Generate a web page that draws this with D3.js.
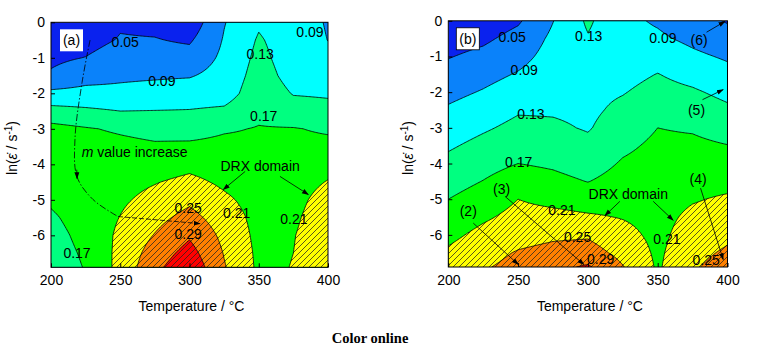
<!DOCTYPE html>
<html>
<head>
<meta charset="utf-8">
<script src="https://cdn.jsdelivr.net/npm/d3@7"></script>
<style>
body { margin: 0; background: #fff; }
svg { display: block; font-family: "Liberation Sans", Arial, sans-serif; }
</style>
</head>
<body>
<svg width="761" height="354"></svg>
<script>
// grid: one list of m values per temperature, top (ln rate 0) to bottom
var temps = [200, 225, 250, 275, 300, 325, 350, 375, 400];
var lnRates = [0, -0.5, -1, -1.5, -2, -2.5, -3, -3.5, -4, -4.5, -5, -5.5, -6, -6.5, -6.9];
var levels = [0.05, 0.09, 0.13, 0.17, 0.21, 0.25, 0.29];
var fillColors = ["#0a22ee", "#0a82fa", "#00ffff", "#00ff80", "#00ff00", "#ffff00", "#ff8000", "#ff0000"];
var xTicks = [200, 250, 300, 350, 400];
var yTicks = [0, -1, -2, -3, -4, -5, -6];

var mA = [
	[0.02, 0.03, 0.042, 0.055, 0.099, 0.144, 0.182, 0.19, 0.192, 0.188, 0.175, 0.165, 0.158, 0.154, 0.15],
	[0.02, 0.035, 0.051, 0.075, 0.102, 0.137, 0.173, 0.185, 0.19, 0.19, 0.188, 0.185, 0.18, 0.175, 0.172],
	[0.045, 0.053, 0.07, 0.083, 0.1, 0.13, 0.165, 0.18, 0.19, 0.197, 0.204, 0.211, 0.218, 0.221, 0.222],
	[0.04, 0.052, 0.065, 0.085, 0.105, 0.131, 0.158, 0.175, 0.19, 0.208, 0.222, 0.238, 0.252, 0.268, 0.28],
	[0.025, 0.045, 0.065, 0.087, 0.11, 0.132, 0.155, 0.177, 0.199, 0.22, 0.242, 0.263, 0.285, 0.305, 0.32],
	[0.088, 0.093, 0.098, 0.104, 0.112, 0.137, 0.166, 0.18, 0.19, 0.203, 0.217, 0.23, 0.24, 0.248, 0.253],
	[0.125, 0.134, 0.14, 0.146, 0.153, 0.162, 0.172, 0.178, 0.184, 0.19, 0.195, 0.198, 0.2, 0.202, 0.203],
	[0.108, 0.11, 0.112, 0.117, 0.128, 0.145, 0.172, 0.18, 0.187, 0.193, 0.198, 0.203, 0.208, 0.21, 0.211],
	[0.087, 0.0895, 0.097, 0.11, 0.126, 0.14, 0.165, 0.18, 0.197, 0.212, 0.226, 0.234, 0.238, 0.239, 0.24]
];
var mB = [
	[0.017, 0.033, 0.048, 0.063, 0.079, 0.095, 0.11, 0.125, 0.14, 0.155, 0.17, 0.185, 0.2, 0.216, 0.228],
	[0.027, 0.043, 0.06, 0.077, 0.093, 0.11, 0.125, 0.141, 0.156, 0.171, 0.187, 0.204, 0.221, 0.236, 0.246],
	[0.045, 0.063, 0.077, 0.093, 0.11, 0.126, 0.14, 0.155, 0.17, 0.19, 0.21, 0.222, 0.235, 0.253, 0.262],
	[0.089, 0.098, 0.105, 0.112, 0.119, 0.126, 0.136, 0.15, 0.164, 0.181, 0.2, 0.221, 0.243, 0.262, 0.28],
	[0.136, 0.127, 0.122, 0.12, 0.12, 0.122, 0.127, 0.139, 0.152, 0.169, 0.192, 0.215, 0.245, 0.267, 0.295],
	[0.1, 0.105, 0.111, 0.118, 0.128, 0.139, 0.15, 0.162, 0.174, 0.185, 0.196, 0.208, 0.222, 0.238, 0.252],
	[0.085, 0.097, 0.115, 0.131, 0.143, 0.157, 0.17, 0.178, 0.185, 0.19, 0.195, 0.198, 0.2, 0.203, 0.205],
	[0.065, 0.081, 0.098, 0.117, 0.135, 0.151, 0.166, 0.178, 0.187, 0.196, 0.207, 0.218, 0.228, 0.238, 0.245],
	[0.047, 0.066, 0.085, 0.102, 0.12, 0.137, 0.154, 0.171, 0.184, 0.199, 0.215, 0.226, 0.242, 0.256, 0.267]
];

// contour labels [text, T, ln rate]
var labelsA = [["0.05", 253.6, -0.57], ["0.09", 280, -1.67], ["0.13", 351, -0.89], ["0.09", 387, -0.28],
	["0.17", 353.6, -2.63], ["0.21", 334, -5.37], ["0.21", 375.4, -5.53], ["0.25", 299, -5.22],
	["0.29", 299, -5.97], ["0.17", 218.8, -6.51]];
var labelsB = [["0.05", 245.8, -0.46], ["0.13", 300.5, -0.42], ["0.09", 353.7, -0.49], ["0.09", 254.4, -1.37],
	["0.13", 259.2, -2.61], ["0.17", 250.4, -3.96], ["0.21", 281.4, -5.31], ["0.25", 292.6, -6.06],
	["0.29", 309.1, -6.68], ["0.21", 356.6, -6.13], ["0.25", 384.7, -6.71]];

var FS = 14;
var svg = d3.select("svg");
var defs = svg.append("defs");

var hatch = defs.append("pattern").attr("id", "hatch").attr("patternUnits", "userSpaceOnUse")
	.attr("width", 6).attr("height", 6);
hatch.append("path").attr("d", "M-1,1 L1,-1 M0,6 L6,0 M5,7 L7,5")
	.attr("stroke", "#222").attr("stroke-width", 0.75);

defs.append("marker").attr("id", "arr").attr("viewBox", "0 0 10 10").attr("refX", 9).attr("refY", 5)
	.attr("markerWidth", 7).attr("markerHeight", 7).attr("markerUnits", "userSpaceOnUse").attr("orient", "auto")
	.append("path").attr("d", "M0,1.5 L10,5 L0,8.5 Z").attr("fill", "#000");

//	bilinear look-up in the read grid (only used to feed d3.contours a finer mesh)
function sample(cols, T, v) {
	var i = Math.min(temps.length - 2, Math.floor((T - temps[0]) / 25));
	var tx = (T - temps[i]) / (temps[i + 1] - temps[i]);
	var j = 0;
	while (j < lnRates.length - 2 && v < lnRates[j + 1]) j++;
	var ty = (lnRates[j] - v) / (lnRates[j] - lnRates[j + 1]);
	var a = cols[i][j], b = cols[i + 1][j], c = cols[i][j + 1], d = cols[i + 1][j + 1];
	return (a * (1 - tx) + b * tx) * (1 - ty) + (c * (1 - tx) + d * tx) * ty;
}

function drawPanel(cfg) {
	var x = d3.scaleLinear().domain([200, 400]).range([cfg.left, cfg.right]);
	var y = d3.scaleLinear().domain([-6.9, 0]).range([cfg.bottom, cfg.top]);
	var g = svg.append("g");

	defs.append("clipPath").attr("id", "clip" + cfg.id).append("rect")
		.attr("x", cfg.left).attr("y", cfg.top)
		.attr("width", cfg.right - cfg.left).attr("height", cfg.bottom - cfg.top);

	var nx = 201, ny = 139, dT = 1, dV = 0.05;
	var vals = new Array(nx * ny);
	for (var r = 0; r < ny; r++) {
		for (var c = 0; c < nx; c++) {
			vals[r * nx + c] = sample(cfg.m, 200 + c * dT, Math.max(-6.9, -r * dV));
		}
	}
	var contours = d3.contours().size([nx, ny]).thresholds(levels)(vals);
	var proj = d3.geoTransform({point: function(a, b) {
		this.stream.point(x(200 + (a - 0.5) * dT), y(-(b - 0.5) * dV));
	}});
	var path = d3.geoPath(proj);

	var plot = g.append("g").attr("clip-path", "url(#clip" + cfg.id + ")");
	plot.append("rect").attr("x", cfg.left).attr("y", cfg.top)
		.attr("width", cfg.right - cfg.left).attr("height", cfg.bottom - cfg.top)
		.attr("fill", fillColors[0]);
	plot.selectAll("path.band").data(contours).enter().append("path").attr("class", "band")
		.attr("d", path).attr("fill", function(d, i) { return fillColors[i + 1]; });
	//	DRX domains: everything above 0.21 is hatched
	plot.append("path").attr("d", path(contours[4])).attr("fill", "url(#hatch)");
	plot.selectAll("path.iso").data(contours).enter().append("path").attr("class", "iso")
		.attr("d", path).attr("fill", "none").attr("stroke", "#000").attr("stroke-width", 0.8);

	//	axes with inward ticks
	var xAxis = g.append("g").attr("transform", "translate(0," + cfg.bottom + ")")
		.call(d3.axisBottom(x).tickValues(xTicks).tickSize(-4).tickPadding(8));
	var yAxis = g.append("g").attr("transform", "translate(" + cfg.left + ",0)")
		.call(d3.axisLeft(y).tickValues(yTicks).tickSize(-4).tickPadding(6).tickFormat(function(d) { return String(d); }));
	[xAxis, yAxis].forEach(function(ax) {
		ax.select(".domain").remove();
		ax.selectAll("text").attr("font-size", FS).attr("fill", "#000").attr("font-family", "Liberation Sans, Arial, sans-serif");
		ax.selectAll("line").attr("stroke", "#000");
	});

	g.append("rect").attr("x", cfg.left).attr("y", cfg.top)
		.attr("width", cfg.right - cfg.left).attr("height", cfg.bottom - cfg.top)
		.attr("fill", "none").attr("stroke", "#000").attr("stroke-width", 1);

	//	contour values
	g.selectAll("text.lvl").data(cfg.labels).enter().append("text").attr("class", "lvl")
		.attr("x", function(d) { return x(d[1]); }).attr("y", function(d) { return y(d[2]); })
		.attr("dy", "0.35em").attr("text-anchor", "middle").attr("font-size", FS).attr("fill", "#000")
		.text(function(d) { return d[0]; });

	//	panel tag
	var tag = g.append("g");
	tag.append("rect").attr("x", cfg.left + cfg.tagDx).attr("y", cfg.top + 7).attr("width", 23).attr("height", 22)
		.attr("fill", "#fff").attr("stroke", cfg.tagStroke ? "#000" : "none").attr("stroke-width", 0.8);
	tag.append("text").attr("x", cfg.left + cfg.tagDx + 11.5).attr("y", cfg.top + 23).attr("text-anchor", "middle")
		.attr("font-size", FS).text(cfg.tag);

	//	axis titles
	g.append("text").attr("x", (cfg.left + cfg.right) / 2 + 2).attr("y", 311).attr("text-anchor", "middle")
		.attr("font-size", FS).text("Temperature / °C");
	var yt = g.append("text").attr("transform", "translate(" + cfg.ytX + ",148) rotate(-90)")
		.attr("text-anchor", "middle").attr("font-size", FS);
	yt.append("tspan").text("ln(");
	yt.append("tspan").attr("font-style", "italic").text("ε\u0307");
	yt.append("tspan").text(" / s");
	yt.append("tspan").attr("font-size", 10).attr("dy", -5).text("-1");
	yt.append("tspan").attr("dy", 5).text(")");

	return {g: g, x: x, y: y};
}

function arrow(p, x1, y1, x2, y2) {
	p.g.append("line").attr("x1", p.x(x1)).attr("y1", p.y(y1)).attr("x2", p.x(x2)).attr("y2", p.y(y2))
		.attr("stroke", "#000").attr("stroke-width", 0.8).attr("marker-end", "url(#arr)");
}

var pa = drawPanel({id: "a", m: mA, labels: labelsA, left: 51, right: 328, top: 22.3, bottom: 267.3,
	tag: "(a)", tagDx: 9, tagStroke: false, ytX: 17});
var pb = drawPanel({id: "b", m: mB, labels: labelsB, left: 448.3, right: 727.5, top: 20.8, bottom: 267,
	tag: "(b)", tagDx: 8, tagStroke: true, ytX: 413});

//	panel (a) annotations
var trend = [[228.2, -0.5], [222.4, -1.7], [217.3, -3.3], [218.8, -4.35], [230.3, -4.99], [248.4, -5.47]];
pa.g.append("path")
	.attr("d", d3.line().curve(d3.curveCatmullRom).x(function(d) { return pa.x(d[0]); }).y(function(d) { return pa.y(d[1]); })(trend))
	.attr("fill", "none").attr("stroke", "#000").attr("stroke-width", 0.8).attr("stroke-dasharray", "7,2,1.5,2");
pa.g.append("path").attr("d", "M" + pa.x(218.6) + "," + pa.y(-4.15) + "L" + pa.x(218.8) + "," + pa.y(-4.4))
	.attr("stroke", "#000").attr("stroke-width", 0.8).attr("marker-end", "url(#arr)");
pa.g.append("line").attr("x1", pa.x(248.4)).attr("y1", pa.y(-5.47)).attr("x2", pa.x(307.6)).attr("y2", pa.y(-5.67))
	.attr("stroke", "#000").attr("stroke-width", 0.8).attr("stroke-dasharray", "5,2").attr("marker-end", "url(#arr)");
var mt = pa.g.append("text").attr("x", pa.x(222.2)).attr("y", pa.y(-3.65)).attr("dy", "0.35em").attr("font-size", FS);
mt.append("tspan").attr("font-style", "italic").text("m");
mt.append("tspan").text(" value increase");
pa.g.append("text").attr("x", pa.x(351)).attr("y", pa.y(-4.04)).attr("dy", "0.35em").attr("text-anchor", "middle")
	.attr("font-size", FS).text("DRX domain");
arrow(pa, 340.2, -4.2, 324.4, -4.71);
arrow(pa, 365.3, -4.34, 385.8, -4.85);

//	panel (b) annotations
pb.g.append("text").attr("x", pb.x(328.9)).attr("y", pb.y(-4.87)).attr("dy", "0.35em").attr("text-anchor", "middle")
	.attr("font-size", FS).text("DRX domain");
arrow(pb, 322.9, -5.06, 312.2, -5.46);
arrow(pb, 346.8, -5.06, 361.1, -5.59);
var tagsB = [["(2)", 214.3, -5.34, 217.9, -5.67, 250.1, -6.83], ["(3)", 238.2, -4.72, 240.6, -4.92, 297.1, -6.83],
	["(4)", 379, -4.45, 380.7, -4.69, 396.9, -6.69], ["(5)", 377.8, -2.49, 382.1, -2.21, 396.9, -1.93],
	["(6)", 379.7, -0.53, 385, -0.32, 398.1, -0.02]];
tagsB.forEach(function(t) {
	pb.g.append("text").attr("x", pb.x(t[1])).attr("y", pb.y(t[2])).attr("dy", "0.35em").attr("text-anchor", "middle")
		.attr("font-size", FS).text(t[0]);
	arrow(pb, t[3], t[4], t[5], t[6]);
});

svg.append("text").attr("x", 370).attr("y", 343).attr("text-anchor", "middle")
	.attr("font-family", "Liberation Serif, Times New Roman, serif").attr("font-weight", "bold")
	.attr("font-size", 14.5).text("Color online");
</script>
</body>
</html>
